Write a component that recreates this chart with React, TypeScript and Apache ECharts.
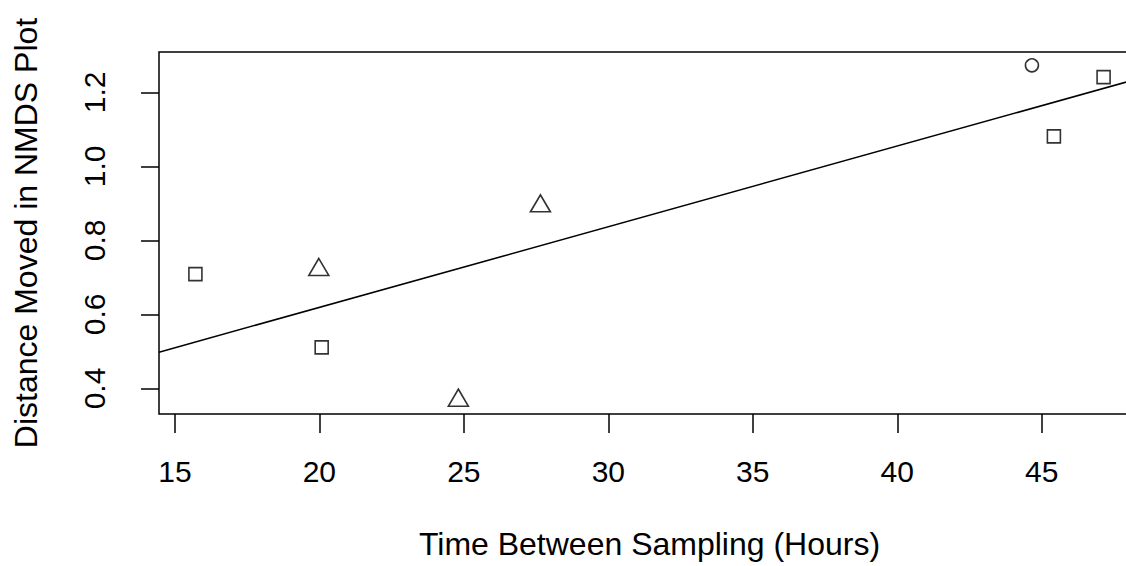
import React, { useEffect, useRef } from "react";
import * as echarts from "echarts";

// Data
const squareX = [15.71, 20.08, 45.42, 47.14];
const squareY = [0.709, 0.511, 1.081, 1.241];
const triangleX = [19.98, 24.81, 27.65];
const triangleY = [0.72, 0.367, 0.892];
const circleX = [44.66];
const circleY = [1.273];

// Fitted regression line (abline of lm)
const fitIntercept = 0.183;
const fitSlope = 0.0218;

const xTicks = [15, 20, 25, 30, 35, 40, 45];
const yTicks = [0.4, 0.6, 0.8, 1.0, 1.2];
const xRange = [14.45, 48.4];
const yRange = [0.331, 1.309];

const xTitle = "Time Between Sampling (Hours)";
const yTitle = "Distance Moved in NMDS Plot";

const zip = (xs: number[], ys: number[]) => xs.map((x, i) => [x, ys[i]]);

export default function App() {
  const ref = useRef<HTMLDivElement>(null);
  useEffect(() => {
    if (!ref.current) return;
    const chart = echarts.init(ref.current, undefined, { renderer: "svg" });
    const font = "Liberation Sans, Arial, sans-serif";
    const ink = "#000";
    const hollow = { color: "rgba(0,0,0,0)", borderColor: ink, borderWidth: 1.6 };
    chart.setOption({
      animation: false,
      backgroundColor: "#fff",
      grid: {
        left: 159,
        top: 52,
        right: 0,
        bottom: 152,
        show: true,
        borderColor: ink,
        borderWidth: 1.5,
        backgroundColor: "transparent",
      },
      xAxis: {
        type: "value",
        min: xRange[0],
        max: xRange[1],
        name: xTitle,
        nameLocation: "middle",
        nameGap: 114,
        nameTextStyle: { fontFamily: font, fontSize: 32, color: ink },
        axisLine: { show: false },
        splitLine: { show: false },
        axisTick: {
          show: true,
          inside: false,
          length: 19,
          customValues: xTicks,
          lineStyle: { color: ink, width: 1.5 },
        },
        axisLabel: {
          show: true,
          customValues: xTicks,
          margin: 42,
          fontFamily: font,
          fontSize: 30,
          color: ink,
        },
      },
      yAxis: {
        type: "value",
        min: yRange[0],
        max: yRange[1],
        name: yTitle,
        nameLocation: "middle",
        nameRotate: 90,
        nameGap: 117,
        nameTextStyle: { fontFamily: font, fontSize: 32, color: ink },
        axisLine: { show: false },
        splitLine: { show: false },
        axisTick: {
          show: true,
          inside: false,
          length: 18,
          customValues: yTicks,
          lineStyle: { color: ink, width: 1.5 },
        },
        axisLabel: {
          show: true,
          customValues: yTicks,
          rotate: 90,
          margin: 50,
          fontFamily: font,
          fontSize: 30,
          color: ink,
          formatter: (v: number) => v.toFixed(1),
        },
      },
      series: [
        {
          type: "line",
          data: [
            [xRange[0], fitIntercept + fitSlope * xRange[0]],
            [xRange[1], fitIntercept + fitSlope * xRange[1]],
          ],
          symbol: "none",
          lineStyle: { color: ink, width: 1.5 },
          z: 1,
        },
        {
          type: "scatter",
          data: zip(squareX, squareY),
          symbol: "rect",
          symbolSize: [13, 13],
          itemStyle: hollow,
          z: 2,
        },
        {
          type: "scatter",
          data: zip(triangleX, triangleY),
          symbol: "triangle",
          symbolSize: [20, 17],
          symbolOffset: [0, -3],
          itemStyle: hollow,
          z: 2,
        },
        {
          type: "scatter",
          data: zip(circleX, circleY),
          symbol: "circle",
          symbolSize: 13,
          itemStyle: hollow,
          z: 2,
        },
      ],
    });
    return () => chart.dispose();
  }, []);
  return (
    <div style={{ position: "fixed", left: 0, top: 0, width: 1126, height: 566, overflow: "hidden", background: "#fff" }}>
      <div ref={ref} style={{ width: 1140, height: 566 }} />
    </div>
  );
}
